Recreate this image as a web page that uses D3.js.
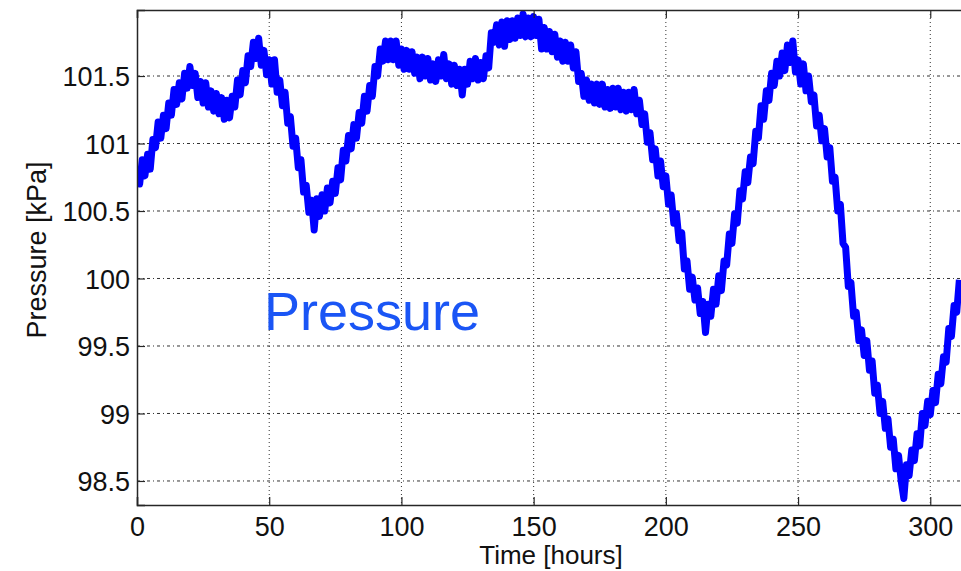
<!DOCTYPE html>
<html>
<head>
<meta charset="utf-8">
<script src="https://cdn.jsdelivr.net/npm/d3@7"></script>
<style>
  html, body { margin: 0; padding: 0; background: #fff; }
  svg { display: block; }
  text { font-family: "Liberation Sans", Arial, Helvetica, sans-serif; }
</style>
</head>
<body>
<svg id="chart" width="961" height="571"></svg>
<script>
// Hourly barometric pressure readings [kPa], starting at hour 0
const hours = d3.range(0, 312);
const pressure = [
  100.80, 100.70, 100.88, 100.76, 100.92, 100.81, 101.03, 100.97, 101.16, 101.04,
  101.21, 101.11, 101.30, 101.21, 101.40, 101.29, 101.45, 101.33, 101.52, 101.41,
  101.57, 101.43, 101.52, 101.34, 101.46, 101.30, 101.45, 101.27, 101.39, 101.24,
  101.37, 101.22, 101.34, 101.18, 101.32, 101.19, 101.35, 101.27, 101.47, 101.36,
  101.54, 101.45, 101.65, 101.57, 101.75, 101.63, 101.78, 101.58, 101.69, 101.51,
  101.62, 101.44, 101.62, 101.38, 101.47, 101.28, 101.38, 101.15, 101.20, 100.98,
  101.04, 100.82, 100.88, 100.64, 100.69, 100.49, 100.58, 100.36, 100.59, 100.46,
  100.62, 100.50, 100.67, 100.56, 100.72, 100.63, 100.82, 100.73, 100.95, 100.87,
  101.06, 100.96, 101.14, 101.04, 101.23, 101.15, 101.35, 101.24, 101.43, 101.35,
  101.57, 101.50, 101.70, 101.61, 101.76, 101.62, 101.76, 101.62, 101.76, 101.58,
  101.70, 101.55, 101.69, 101.55, 101.68, 101.52, 101.64, 101.48, 101.64, 101.50,
  101.63, 101.47, 101.59, 101.46, 101.62, 101.50, 101.66, 101.48, 101.59, 101.44,
  101.58, 101.43, 101.55, 101.36, 101.55, 101.44, 101.61, 101.48, 101.63, 101.47,
  101.60, 101.48, 101.65, 101.56, 101.82, 101.75, 101.88, 101.73, 101.90, 101.72,
  101.91, 101.77, 101.91, 101.78, 101.93, 101.80, 101.96, 101.79, 101.93, 101.79,
  101.94, 101.80, 101.92, 101.70, 101.86, 101.70, 101.83, 101.68, 101.81, 101.64,
  101.76, 101.61, 101.75, 101.61, 101.73, 101.56, 101.68, 101.46, 101.52, 101.35,
  101.47, 101.32, 101.44, 101.30, 101.44, 101.29, 101.44, 101.27, 101.40, 101.26,
  101.41, 101.27, 101.41, 101.25, 101.38, 101.24, 101.38, 101.25, 101.40, 101.22,
  101.32, 101.14, 101.22, 101.01, 101.08, 100.88, 100.96, 100.76, 100.87, 100.68,
  100.76, 100.55, 100.62, 100.41, 100.48, 100.28, 100.34, 100.07, 100.13, 99.92,
  100.01, 99.84, 99.93, 99.74, 99.83, 99.60, 99.81, 99.72, 99.92, 99.81,
  100.02, 99.91, 100.13, 100.10, 100.33, 100.26, 100.48, 100.41, 100.65, 100.59,
  100.79, 100.71, 100.90, 100.85, 101.09, 101.04, 101.28, 101.18, 101.39, 101.32,
  101.52, 101.43, 101.61, 101.50, 101.67, 101.54, 101.73, 101.60, 101.76, 101.53,
  101.62, 101.44, 101.59, 101.39, 101.50, 101.31, 101.36, 101.13, 101.21, 101.02,
  101.11, 100.90, 100.97, 100.72, 100.75, 100.50, 100.55, 100.26, 100.23, 99.94,
  99.97, 99.72, 99.75, 99.54, 99.62, 99.43, 99.54, 99.32, 99.39, 99.15,
  99.21, 99.00, 99.09, 98.89, 98.96, 98.75, 98.81, 98.59, 98.69, 98.50,
  98.37, 98.62, 98.54, 98.73, 98.65, 98.85, 98.76, 99.00, 98.91, 99.09,
  98.99, 99.17, 99.08, 99.29, 99.22, 99.42, 99.38, 99.63, 99.57, 99.80,
  99.75, 99.99
];

const xTicks = [0, 50, 100, 150, 200, 250, 300];
const yTicks = [98.5, 99, 99.5, 100, 100.5, 101, 101.5];
const yTickLabels = ["98.5", "99", "99.5", "100", "100.5", "101", "101.5"];

const xLabel = "Time [hours]";
const yLabel = "Pressure [kPa]";
const seriesLabel = "Pressure";

const plot = { left: 137, top: 10, right: 962, bottom: 505 };

const svg = d3.select("#chart");

const x = d3.scaleLinear().domain([0, 312]).range([plot.left, plot.right]);
const y = d3.scaleLinear().domain([98.322, 101.989]).range([plot.bottom, plot.top]);

svg.append("defs").append("clipPath").attr("id", "plot-clip")
  .append("rect")
  .attr("x", plot.left).attr("y", plot.top)
  .attr("width", plot.right - plot.left).attr("height", plot.bottom - plot.top);

// dotted grid
const grid = svg.append("g").attr("class", "grid");
grid.selectAll("line.gx").data(xTicks.filter(d => d > 0)).join("line")
  .attr("class", "gx")
  .attr("x1", d => x(d)).attr("x2", d => x(d))
  .attr("y1", plot.top).attr("y2", plot.bottom)
  .attr("stroke", "#333").attr("stroke-width", 1)
  .attr("stroke-dasharray", "1,3");
grid.selectAll("line.gy").data(yTicks).join("line")
  .attr("class", "gy")
  .attr("x1", plot.left).attr("x2", plot.right)
  .attr("y1", d => y(d)).attr("y2", d => y(d))
  .attr("stroke", "#333").attr("stroke-width", 1)
  .attr("stroke-dasharray", "3,3,1,3");

// pressure trace
const line = d3.line().x((d, i) => x(hours[i])).y(d => y(d));
svg.append("path")
  .datum(pressure)
  .attr("clip-path", "url(#plot-clip)")
  .attr("fill", "none")
  .attr("stroke", "#0000ff")
  .attr("stroke-width", 7)
  .attr("stroke-linejoin", "round")
  .attr("d", line);

// axes with inward ticks (box style)
const tickLen = 8;
const bottomAxis = d3.axisBottom(x).tickValues(xTicks).tickSize(-tickLen).tickPadding(12).tickFormat(d3.format("d"));
const topAxis = d3.axisTop(x).tickValues(xTicks).tickSize(-tickLen).tickFormat("");
const leftAxis = d3.axisLeft(y).tickValues(yTicks).tickSize(-tickLen).tickPadding(7)
  .tickFormat((d, i) => yTickLabels[i]);

const gB = svg.append("g").attr("transform", `translate(0,${plot.bottom})`).call(bottomAxis);
const gT = svg.append("g").attr("transform", `translate(0,${plot.top})`).call(topAxis);
const gL = svg.append("g").attr("transform", `translate(${plot.left},0)`).call(leftAxis);

[gB, gT, gL].forEach(g => {
  g.select(".domain").attr("stroke", "#262626").attr("stroke-width", 1.5);
  g.selectAll(".tick line").attr("stroke", "#262626").attr("stroke-width", 1.2);
  g.selectAll("text").attr("fill", "#111").style("font-size", "27px")
    .style("font-family", "'Liberation Sans', Arial, sans-serif");
});
gB.selectAll("text").attr("dy", "0.71em");
gL.selectAll("text").attr("dy", "0.36em");

// axis titles
svg.append("text")
  .attr("x", 551).attr("y", 564)
  .attr("text-anchor", "middle")
  .attr("fill", "#111")
  .style("font-size", "26px")
  .text(xLabel);

svg.append("text")
  .attr("transform", "translate(46,250) rotate(-90)")
  .attr("text-anchor", "middle")
  .attr("fill", "#111")
  .style("font-size", "27px")
  .text(yLabel);

// series annotation
svg.append("text")
  .attr("x", 264).attr("y", 330)
  .attr("fill", "#1a55f5")
  .style("font-size", "54px")
  .text(seriesLabel);
</script>
</body>
</html>
